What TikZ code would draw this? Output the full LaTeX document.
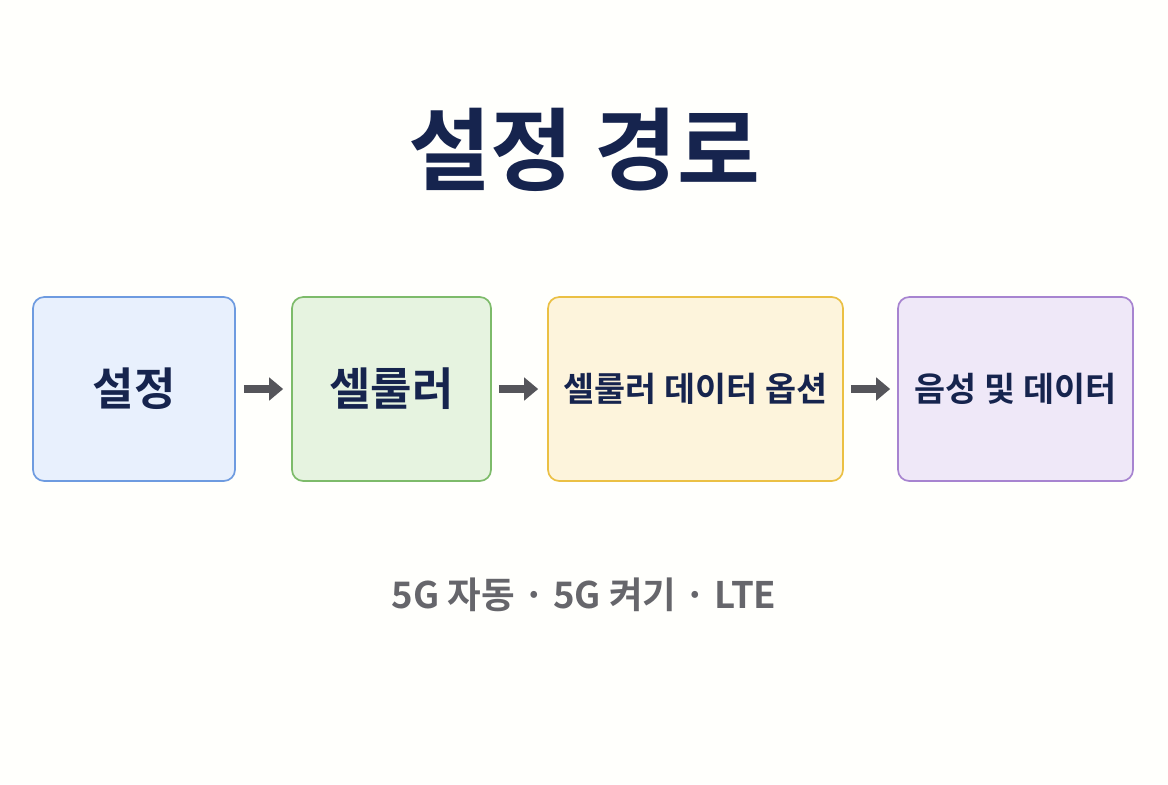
\documentclass[tikz,border=0pt]{standalone}
\usepackage{fontspec}
\setmainfont{Noto Sans CJK KR}[BoldFont={* Bold}]
\usetikzlibrary{arrows.meta, positioning}
\definecolor{navy}{RGB}{22,36,78}
\definecolor{arrowgray}{RGB}{85,85,90}
\definecolor{bluefill}{RGB}{232,240,253}\definecolor{blueline}{RGB}{110,155,224}
\definecolor{greenfill}{RGB}{230,243,224}\definecolor{greenline}{RGB}{125,187,106}
\definecolor{yellowfill}{RGB}{253,244,220}\definecolor{yellowline}{RGB}{235,192,68}
\definecolor{purplefill}{RGB}{239,232,248}\definecolor{purpleline}{RGB}{167,132,208}
\begin{document}
\begin{tikzpicture}[x=0.025cm, y=-0.025cm,
stage/.style={
    rectangle,
    rounded corners=8pt,
    line width=1.2pt,
    minimum height=184*0.025cm,
    align=center,
    text=navy,
    font=\bfseries\fontsize{32}{36}\selectfont
}, >={Triangle[length=10pt,width=16pt]}]

  \useasboundingbox (0,0) rectangle (1168,784);
  \fill[white!99!yellow] (0,0) rectangle (1168,784);

  \node (title) [text=navy, font=\bfseries\fontsize{64}{74}\selectfont] at (584,150) {설정 경로};

  \node (settings) [stage, draw=blueline, fill=bluefill, minimum width=202*0.025cm] at (134,389) {설정};
  \node (cellular) [stage, draw=greenline, fill=greenfill, minimum width=199*0.025cm] at (391.5,389) {셀룰러};
  \node (options) [stage, draw=yellowline, fill=yellowfill, minimum width=295*0.025cm,
    font=\bfseries\fontsize{24}{28}\selectfont] at (695.5,389) {셀룰러 데이터 옵션};
  \node (voice) [stage, draw=purpleline, fill=purplefill, minimum width=235*0.025cm,
    font=\bfseries\fontsize{24}{28}\selectfont] at (1015.5,389) {음성 및 데이터};

  \draw[->, arrowgray, line width=5pt] ([xshift=8*0.025cm]settings.east) -- ([xshift=-8*0.025cm]cellular.west);
  \draw[->, arrowgray, line width=5pt] ([xshift=7*0.025cm]cellular.east) -- ([xshift=-9*0.025cm]options.west);
  \draw[->, arrowgray, line width=5pt] ([xshift=7*0.025cm]options.east) -- ([xshift=-7*0.025cm]voice.west);

  \node (modes) [text=arrowgray!90, font=\bfseries\fontsize{26}{30}\selectfont] at (584,595) {5G 자동 · 5G 켜기 · LTE};

\end{tikzpicture}
\end{document}
